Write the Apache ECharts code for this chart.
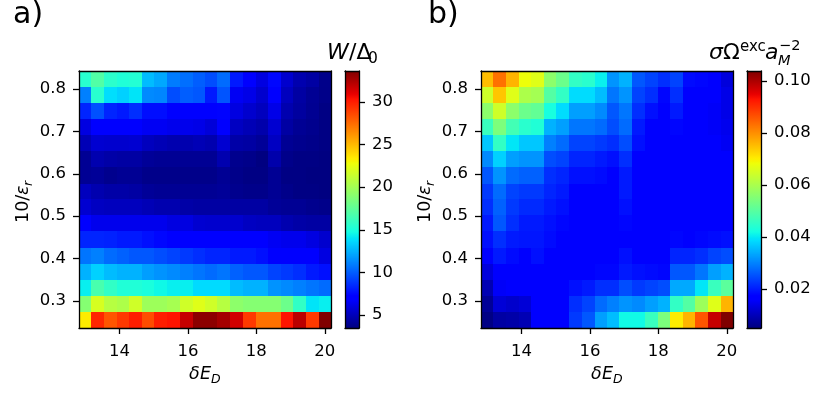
<!DOCTYPE html>
<html>
<head>
<meta charset="utf-8">
<title>heatmaps</title>
<style>
html, body { margin: 0; padding: 0; background: #fff; }
#chart { width: 830px; height: 397px; }
</style>
<script src="https://cdn.jsdelivr.net/npm/echarts@6/dist/echarts.min.js"></script>
</head>
<body>
<div id="chart"></div>
<script>
// axis values
var deltaE = [13, 13.37, 13.74, 14.11, 14.47, 14.84, 15.21, 15.58, 15.95, 16.32, 16.68, 17.05, 17.42, 17.79, 18.16, 18.53, 18.89, 19.26, 19.63, 20];
var invEps = [0.824, 0.786, 0.748, 0.710, 0.672, 0.634, 0.596, 0.558, 0.521, 0.483, 0.445, 0.407, 0.369, 0.331, 0.293, 0.255];

var xTicks = [14, 16, 18, 20];
var yTicks = [0.3, 0.4, 0.5, 0.6, 0.7, 0.8];
var barTicksA = [5, 10, 15, 20, 25, 30];
var barTicksB = [0.02, 0.04, 0.06, 0.08, 0.10];

// panel a, rows from the top
var gapW = [
  [15.5,17,15.6,15.2,15.3,12.8,12.2,10.9,10.5,10,9.5,10.4,8,7.2,6,7.4,5.5,4.7,4.4,3.75],
  [11,15.5,13.8,13.4,14,11.3,11.2,9.5,10,9.8,8,9.7,6.5,6.2,5.5,6.8,5.1,4.4,4,3.7],
  [8.3,9.6,8.3,8,8.6,7.6,7.6,6.8,6.9,7,6.8,7.3,6,5.5,5.1,6.2,4.7,4.3,3.95,3.6],
  [6,7.1,6.8,6.8,6.8,6.5,6.5,6.3,6.3,6.2,5.8,6.8,5.2,4.9,4.6,5.6,4.4,4,3.85,3.6],
  [4.9,5.6,5.5,5.5,5.6,5.1,4.9,4.7,4.7,4.9,4.7,5.6,4.5,4.4,4.1,5.2,4,3.85,3.75,3.6],
  [4,4.7,4.5,4.4,4.4,4.1,4,4,4,4,4,4.7,3.85,3.75,3.5,4.6,3.75,3.6,3.6,3.5],
  [4,4.1,3.85,4,4,3.75,3.75,3.75,3.75,3.75,3.75,4,3.75,3.6,3.6,4,3.6,3.6,3.5,3.5],
  [5.1,4.7,4.5,4.5,4.4,4.1,4,4,4,4,4,4.1,3.85,3.75,3.75,4,3.75,3.6,3.6,3.5],
  [5.6,5.2,5.1,5.1,5.1,4.9,4.7,4.7,4.5,4.4,4.4,4.4,4.4,4.4,4.4,4.1,4,4,3.85,3.75],
  [6.8,6.3,6.3,6.3,6.3,6.3,6.3,6,6,5.6,5.5,5.5,5.5,5.2,5.1,5.1,4.7,4.5,4.4,4.4],
  [8.3,8.3,8.2,8,8,7.7,7.4,7.2,7.1,7.1,7.1,7.1,7.1,7,6.8,6.5,6.3,6.3,6,5.5],
  [10.7,11,10.4,10.1,9.8,9.8,9.5,9.2,8.9,8.6,8.3,8.3,8,8,7.7,7.1,7.1,6.8,6.8,6],
  [12.5,13.4,12.8,12.5,12.5,11.9,11.6,11.3,11,10.7,10.4,10.7,10.1,9.8,9.8,9.2,8.9,8.6,8,7.7],
  [14.3,16.7,15.8,15.2,15.2,15,14.6,14.3,14.3,13.7,13.7,13.7,12.8,12.5,12.5,11.6,11.3,11,10.7,10.4],
  [18.9,21.9,20.7,20.4,21.6,19.8,19.8,20.1,21.6,22.2,21.6,20.7,19.2,18.9,18.9,18.9,18,15.8,14,14.3],
  [23.4,29.7,28.2,29.1,30,28.5,30,30.3,31.8,33.3,33.3,32.7,31.5,29.1,27.3,27.3,30.3,32.1,29.1,33.6]
];

// panel b, rows from the top
var sigmaExc = [
  [.0751,.0831,.0761,.0682,.0663,.0564,.0524,.0455,.0445,.0406,.0317,.0346,.0257,.0238,.0218,.0238,.0183,.0178,.0174,.0129],
  [.0643,.0742,.0663,.0603,.0593,.0495,.0455,.0386,.0386,.0356,.0287,.0317,.0238,.0218,.0178,.0218,.0169,.0169,.0169,.0139],
  [.0564,.0643,.0564,.0524,.0514,.0425,.0386,.0327,.0327,.0307,.0257,.0287,.0218,.0188,.0169,.0198,.0159,.0159,.0154,.0139],
  [.0465,.0544,.0475,.0445,.0435,.0346,.0327,.0287,.0287,.0277,.0248,.0277,.0198,.0169,.0164,.0178,.0159,.0159,.0154,.0144],
  [.0366,.0455,.0396,.0366,.0366,.0297,.0277,.0238,.0238,.0228,.0218,.0248,.0188,.0159,.0159,.0174,.0159,.0159,.0159,.0149],
  [.0307,.0376,.0327,.0317,.0317,.0248,.0238,.0208,.0208,.0198,.0188,.0218,.0174,.0159,.0159,.0169,.0159,.0159,.0159,.0159],
  [.0257,.0317,.0277,.0267,.0267,.0218,.0208,.0188,.0188,.0183,.0174,.0198,.0169,.0159,.0159,.0169,.0159,.0159,.0159,.0159],
  [.0228,.0277,.0238,.0228,.0228,.0208,.0198,.0169,.0169,.0169,.0169,.0198,.0159,.0159,.0159,.0169,.0159,.0159,.0159,.0159],
  [.0218,.0267,.0228,.0213,.0213,.0198,.0188,.0164,.0164,.0164,.0164,.0188,.0159,.0159,.0159,.0169,.0159,.0159,.0159,.0159],
  [.0198,.0257,.0218,.0198,.0198,.0188,.0178,.0159,.0159,.0159,.0159,.0178,.0159,.0159,.0159,.0169,.0164,.0164,.0159,.0159],
  [.0188,.0218,.0198,.0193,.0193,.0183,.0174,.0159,.0159,.0159,.0159,.0174,.0159,.0159,.0159,.0178,.0174,.0178,.0183,.0188],
  [.0159,.0198,.0183,.0174,.0188,.0169,.0169,.0159,.0159,.0164,.0164,.0188,.0174,.0174,.0174,.0208,.0208,.0218,.0238,.0248],
  [.0129,.0169,.0164,.0159,.0174,.0164,.0159,.0164,.0174,.0178,.0178,.0198,.0188,.0183,.0178,.0257,.0257,.0287,.0327,.0346],
  [.0094,.0154,.0159,.0159,.0169,.0164,.0159,.0188,.0198,.0218,.0218,.0248,.0228,.0238,.0248,.0337,.0337,.0396,.0465,.0504],
  [.0070,.0125,.0115,.0125,.0159,.0159,.0159,.0218,.0238,.0277,.0297,.0317,.0307,.0327,.0346,.0455,.0495,.0584,.0663,.0761],
  [.0055,.0080,.0085,.0095,.0159,.0159,.0159,.0228,.0257,.0327,.0356,.0416,.0416,.0465,.0544,.0702,.0761,.0860,.0979,.1038]
];

var rangeA = [3.47, 33.64];
var rangeB = [0.005, 0.1038];
var xRange = [12.82, 20.18];
var yRange = [0.2363, 0.8425];

var font = 'DejaVu Sans';
var tickSize = 16.5;
var lineW = 1.3;

function lerp(t, xs, ys) {
  for (var i = 1; i < xs.length; i++) {
    if (t <= xs[i]) return ys[i - 1] + (ys[i] - ys[i - 1]) * (t - xs[i - 1]) / (xs[i] - xs[i - 1]);
  }
  return ys[ys.length - 1];
}

// matplotlib jet
function jet(t) {
  var r = lerp(t, [0, .35, .66, .89, 1], [0, 0, 1, 1, .5]);
  var g = lerp(t, [0, .125, .375, .64, .91, 1], [0, 0, 1, 1, 0, 0]);
  var b = lerp(t, [0, .11, .34, .65, 1], [.5, 1, 1, 0, 0]);
  return 'rgb(' + Math.round(r * 255) + ',' + Math.round(g * 255) + ',' + Math.round(b * 255) + ')';
}

var palette = [], barStops = [];
for (var p = 0; p < 256; p++) {
  palette.push(jet(p / 255));
  barStops.push({ offset: p / 255, color: jet(p / 255) });
}

function cells(matrix) {
  var out = [];
  matrix.forEach(function (row, r) {
    row.forEach(function (v, c) { out.push([c, r, v]); });
  });
  return out;
}

// cell edge = midpoint between neighbours, outer edges are the axis limits
function edge(values, i, outer) {
  if (i < 0) return outer[0];
  if (i >= values.length - 1) return outer[1];
  return (values[i] + values[i + 1]) / 2;
}

function renderCell(params, api) {
  var c = api.value(0), r = api.value(1);
  var a = api.coord([edge(deltaE, c - 1, xRange), edge(invEps, r - 1, [yRange[1]])]);
  var b = api.coord([edge(deltaE, c, xRange), edge(invEps, r, [0, yRange[0]])]);
  var x0 = Math.round(a[0]), y0 = Math.round(a[1]);
  return {
    type: 'rect',
    shape: { x: x0, y: y0, width: Math.round(b[0]) - x0, height: Math.round(b[1]) - y0 },
    style: { fill: api.visual('color') }
  };
}

function renderBar(params, api) {
  var a = api.coord([0, api.value(1)]);
  var b = api.coord([1, api.value(0)]);
  return {
    type: 'rect',
    shape: { x: a[0], y: a[1], width: b[0] - a[0], height: b[1] - a[1] },
    style: { fill: new echarts.graphic.LinearGradient(0, 1, 0, 0, barStops) }
  };
}

var grids = [], xAxes = [], yAxes = [], series = [], visualMaps = [];

function frameLine() {
  return { show: true, onZero: false, lineStyle: { color: '#000', width: lineW } };
}

// one boxed grid: first x/y axis carry the ticks, second pair only closes the frame
function addBox(box, xOpt, yOpt) {
  var g = grids.length;
  grids.push(box);
  var plainX = { type: 'value', gridIndex: g, min: xOpt.min, max: xOpt.max, z: 10, splitLine: { show: false } };
  var plainY = { type: 'value', gridIndex: g, min: yOpt.min, max: yOpt.max, z: 10, splitLine: { show: false } };
  var tickLabel = function (vals, fmt, margin, pad) {
    return {
      axisTick: { show: !!vals, length: 6, customValues: vals || [], lineStyle: { color: '#000', width: lineW } },
      axisLabel: { show: !!vals, customValues: vals || [], margin: margin, padding: pad, color: '#000', fontFamily: font, fontSize: tickSize, formatter: fmt }
    };
  };
  xAxes.push(Object.assign({}, plainX, { position: 'bottom', axisLine: frameLine() }, tickLabel(xOpt.ticks, xOpt.fmt, 15, 0)));
  xAxes.push(Object.assign({}, plainX, { position: 'top', axisLine: frameLine(), axisTick: { show: false }, axisLabel: { show: false } }));
  yAxes.push(Object.assign({}, plainY, { position: yOpt.side, axisLine: frameLine() }, tickLabel(yOpt.ticks, yOpt.fmt, 13, [3, 0, 0, 0])));
  yAxes.push(Object.assign({}, plainY, { position: yOpt.side === 'left' ? 'right' : 'left', axisLine: frameLine(), axisTick: { show: false }, axisLabel: { show: false } }));
  return (xAxes.length - 2);
}

function addPanel(left, barLeft, matrix, range, barTicks, barFmt) {
  var top = 71, height = 257;
  var ax = addBox({ left: left, top: top, width: 252, height: height },
    { min: xRange[0], max: xRange[1], ticks: xTicks, fmt: function (v) { return String(v); } },
    { min: yRange[0], max: yRange[1], ticks: yTicks, side: 'left', fmt: function (v) { return v.toFixed(1); } });
  series.push({
    type: 'custom', coordinateSystem: 'cartesian2d', xAxisIndex: ax, yAxisIndex: ax,
    renderItem: renderCell, data: cells(matrix), silent: true, animation: false,
    encode: { x: 0, y: 1 }
  });
  visualMaps.push({
    show: false, type: 'continuous', seriesIndex: series.length - 1, dimension: 2,
    min: range[0], max: range[1], inRange: { color: palette }
  });
  var bx = addBox({ left: barLeft, top: top, width: 14, height: height },
    { min: 0, max: 1 },
    { min: range[0], max: range[1], ticks: barTicks, side: 'right', fmt: barFmt });
  series.push({
    type: 'custom', coordinateSystem: 'cartesian2d', xAxisIndex: bx, yAxisIndex: bx,
    renderItem: renderBar, data: [[range[0], range[1]]], silent: true, animation: false,
    encode: { y: [0, 1] }
  });
}

addPanel(79, 345, gapW, rangeA, barTicksA, function (v) { return String(v); });
addPanel(481, 747, sigmaExc, rangeB, barTicksB, function (v) { return v.toFixed(2); });

// label made of pieces, so sub and superscripts can sit where they should
function mathText(x, y, rotation, pieces) {
  return {
    type: 'group', x: x, y: y, rotation: rotation, silent: true,
    children: pieces.map(function (k) {
      return {
        type: 'text', x: k[1], y: k[2],
        style: {
          text: k[0], fontFamily: font, fontSize: k[3], fontStyle: k[4] ? 'italic' : 'normal',
          fill: '#000', verticalAlign: 'bottom'
        }
      };
    })
  };
}

function deltaLabel(x, y) {
  return mathText(x, y, 0, [['δ', 0, 0, 17.5, 1], ['E', 11, 0, 17.5, 1], ['D', 22, 3, 12.5, 1]]);
}

function epsLabel(x, y) {
  return mathText(x, y, Math.PI / 2, [['10/', 0, 0, 17.5, 0], ['ε', 28, 0, 17.5, 1], ['r', 37, 3, 12.5, 1]]);
}

var graphics = [
  { type: 'text', x: 13, y: 0, silent: true, style: { text: 'a)', fontFamily: font, fontSize: 30, fill: '#000' } },
  { type: 'text', x: 428, y: 0, silent: true, style: { text: 'b)', fontFamily: font, fontSize: 30, fill: '#000' } },
  mathText(327, 64, 0, [['W', 0, 0, 22, 1], ['/Δ', 22, 0, 22, 0], ['0', 41, 3, 15.5, 0]]),
  mathText(709, 64, 0, [['σ', 0, 0, 22, 1], ['Ω', 14, 0, 22, 0], ['exc', 31, -9, 15, 0], ['a', 56, 0, 22, 1], ['M', 69, 5, 14.5, 1], ['−2', 70, -10, 14.5, 0]]),
  deltaLabel(189, 383),
  deltaLabel(591, 383),
  epsLabel(32, 223),
  epsLabel(434, 223)
];

var myChart = echarts.init(document.getElementById('chart'), null, { renderer: 'canvas' });

myChart.setOption({
  animation: false,
  backgroundColor: '#fff',
  textStyle: { fontFamily: font },
  tooltip: { show: false },
  grid: grids,
  xAxis: xAxes,
  yAxis: yAxes,
  visualMap: visualMaps,
  series: series,
  graphic: graphics
});

window.addEventListener('resize', myChart.resize);
</script>
</body>
</html>
